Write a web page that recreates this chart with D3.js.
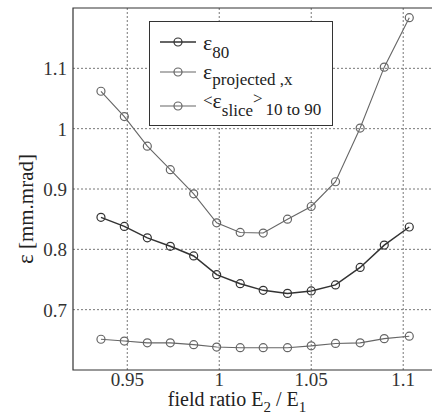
<!DOCTYPE html>
<html>
<head>
<meta charset="utf-8">
<script src="https://cdn.jsdelivr.net/npm/d3@7"></script>
<style>
  body { margin: 0; background: #fff; }
  svg text { font-family: "Liberation Serif", "DejaVu Serif", "Times New Roman", Times, serif; }
</style>
</head>
<body>
<script>
// field ratio values and the three emittance curves
var ratios = [0.9357, 0.9484, 0.9609, 0.9734, 0.9861, 0.9986, 1.0114, 1.0239, 1.0371, 1.05, 1.0632, 1.0766, 1.0897, 1.1033];
var eps80 = [0.853, 0.838, 0.819, 0.805, 0.789, 0.758, 0.743, 0.732, 0.727, 0.731, 0.741, 0.770, 0.807, 0.837];
var epsProjected = [1.062, 1.020, 0.971, 0.932, 0.892, 0.844, 0.828, 0.827, 0.850, 0.871, 0.912, 1.001, 1.102, 1.184];
var epsSlice = [0.651, 0.648, 0.645, 0.645, 0.642, 0.638, 0.637, 0.637, 0.637, 0.640, 0.644, 0.645, 0.652, 0.656];
var xTicks = [0.95, 1, 1.05, 1.1];
var yTicks = [0.7, 0.8, 0.9, 1, 1.1];

var width = 432, height = 420;
var svg = d3.select("body").append("svg")
    .attr("width", width)
    .attr("height", height)
    .attr("font-family", "Liberation Serif, serif");

var x = d3.scaleLinear().domain([0.9205, 1.12]).range([73, 440]);
var y = d3.scaleLinear().domain([0.6, 1.2]).range([370, 8]);

// grid
var grid = svg.append("g");
grid.selectAll(".gx").data(xTicks).enter().append("line")
    .attr("x1", d => x(d)).attr("x2", d => x(d))
    .attr("y1", y(0.6)).attr("y2", y(1.2))
    .attr("stroke", "#777").attr("stroke-dasharray", "2,2");
grid.selectAll(".gy").data(yTicks).enter().append("line")
    .attr("x1", x(0.9205)).attr("x2", width)
    .attr("y1", d => y(d)).attr("y2", d => y(d))
    .attr("stroke", "#777").attr("stroke-dasharray", "2,2");

// frame
svg.append("path")
    .attr("d", `M${width},${y(1.2)}H${x(0.9205)}V${y(0.6)}H${width}`)
    .attr("fill", "none").attr("stroke", "#333").attr("stroke-width", 1.2);

// axes tick labels
svg.append("g").selectAll("text").data(xTicks).enter().append("text")
    .attr("x", d => x(d)).attr("y", 386)
    .attr("text-anchor", "middle")
    .attr("font-size", 19).attr("fill", "#333")
    .text(d => d);
svg.append("g").selectAll("text").data(yTicks).enter().append("text")
    .attr("x", 67).attr("y", d => y(d) + 7)
    .attr("text-anchor", "end")
    .attr("font-size", 19).attr("fill", "#333")
    .text(d => d);

// axis titles
var xt = svg.append("text")
    .attr("x", 237).attr("y", 406)
    .attr("text-anchor", "middle")
    .attr("font-size", 20).attr("fill", "#222");
xt.append("tspan").text("field ratio E");
xt.append("tspan").attr("dy", 6).attr("font-size", 15).text("2");
xt.append("tspan").attr("dy", -6).text(" / E");
xt.append("tspan").attr("dy", 6).attr("font-size", 15).text("1");

var yt = svg.append("text")
    .attr("transform", "translate(33,209) rotate(-90)")
    .attr("text-anchor", "middle")
    .attr("font-size", 21).attr("fill", "#222");
yt.append("tspan").attr("font-size", 23).text("ε");
yt.append("tspan").text(" [mm.mrad]");

// series
var series = [
  {values: epsProjected, color: "#666", w: 1.1},
  {values: epsSlice, color: "#666", w: 1.1},
  {values: eps80, color: "#333", w: 1.5}
];
var line = d3.line().x((d, i) => x(ratios[i])).y(d => y(d));
series.forEach(function(s) {
  svg.append("path").datum(s.values)
      .attr("d", line)
      .attr("fill", "none").attr("stroke", s.color).attr("stroke-width", s.w);
  svg.append("g").selectAll("circle").data(s.values).enter().append("circle")
      .attr("cx", (d, i) => x(ratios[i])).attr("cy", d => y(d))
      .attr("r", 4)
      .attr("fill", "none").attr("stroke", s.color).attr("stroke-width", 1.2);
});

// legend
var lg = svg.append("g");
lg.append("rect")
    .attr("x", 149.5).attr("y", 21.5).attr("width", 183).attr("height", 104)
    .attr("fill", "#fff").attr("stroke", "#333").attr("stroke-width", 1);
var legendRows = [
  {y: 42, color: "#333", w: 1.5},
  {y: 72, color: "#666", w: 1.1},
  {y: 106, color: "#666", w: 1.1}
];
legendRows.forEach(function(r) {
  lg.append("line").attr("x1", 160).attr("x2", 196).attr("y1", r.y).attr("y2", r.y)
      .attr("stroke", r.color).attr("stroke-width", r.w);
  lg.append("circle").attr("cx", 178).attr("cy", r.y).attr("r", 4)
      .attr("fill", "none").attr("stroke", r.color).attr("stroke-width", 1.2);
});
var t1 = lg.append("text").attr("x", 203).attr("y", 50).attr("font-size", 22).attr("fill", "#222");
t1.append("tspan").text("ε");
t1.append("tspan").attr("dy", 8).attr("font-size", 17).text("80");
var t2 = lg.append("text").attr("x", 203).attr("y", 79).attr("font-size", 22).attr("fill", "#222");
t2.append("tspan").text("ε");
t2.append("tspan").attr("dy", 6).attr("font-size", 17).text("projected ,x");
var t3 = lg.append("text").attr("x", 203).attr("y", 108).attr("font-size", 22).attr("fill", "#222");
t3.append("tspan").attr("font-size", 17).attr("dy", -2).text("<");
t3.append("tspan").attr("dy", 2).text("ε");
t3.append("tspan").attr("dy", 8).attr("font-size", 17).text("slice");
t3.append("tspan").attr("dy", -12).attr("font-size", 17).text(">");
t3.append("tspan").attr("dy", 11).attr("dx", 3).attr("font-size", 17).text("10 to 90");
</script>
</body>
</html>
